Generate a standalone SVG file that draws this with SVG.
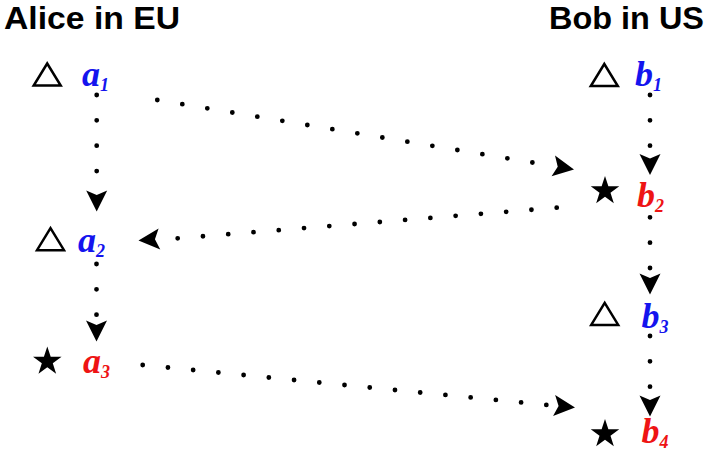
<svg xmlns="http://www.w3.org/2000/svg" xmlns:xlink="http://www.w3.org/1999/xlink" width="706" height="456" viewBox="0 0 706 456">
  <style>
    .title { font-family: "Liberation Sans", Arial, sans-serif; font-weight: bold; font-size: 32px; fill: #000; }
    .lbl { font-family: "Liberation Serif", "Times New Roman", serif; font-style: italic; font-weight: bold; font-size: 36px; }
    .sub { font-size: 18px; }
    .blue { fill: #1414ee; }
    .red { fill: #ee1414; }
    .tri { fill: none; stroke: #000; stroke-width: 2.5; stroke-linejoin: miter; }
    .star { fill: #000; }
    .dots { fill: none; stroke: #000; stroke-width: 4.8; stroke-linecap: round; stroke-dasharray: 0 25.35; }
    .head { fill: #000; }
  </style>
  <defs>
    <path id="triangle" d="M0,-11 L13.5,11 L-13.5,11 Z"/>
    <path id="star5" d="M0,-15 L3.39,-4.67 L14.27,-4.64 L5.49,1.78 L8.82,12.14 L0,5.77 L-8.82,12.14 L-5.49,1.78 L-14.27,-4.64 L-3.39,-4.67 Z"/>
    <!-- arrowhead pointing along +x, tip at origin -->
    <path id="arrowhead" d="M0,0 L-21,-10.5 L-16.5,0 L-21,10.5 Z"/>
  </defs>

  <rect width="706" height="456" fill="#fff"/>

  <g id="titles">
    <text class="title" x="4" y="29" textLength="176" lengthAdjust="spacingAndGlyphs">Alice in EU</text>
    <text class="title" x="549" y="29" textLength="155" lengthAdjust="spacingAndGlyphs">Bob in US</text>
  </g>

  <g id="connectors">
    <!-- cross-region messages -->
    <path class="dots" d="M157.3,100 L533.8,162.75"/>
    <use class="head" xlink:href="#arrowhead" transform="translate(574,169.4) rotate(9.47)"/>
    <path class="dots" d="M556.7,207.7 L175.8,238.45"/>
    <use class="head" xlink:href="#arrowhead" transform="translate(138.5,240.6) rotate(175.4)"/>
    <path class="dots" d="M142.7,365 L548.2,405.15"/>
    <use class="head" xlink:href="#arrowhead" transform="translate(575,407.6) rotate(5.65)"/>
    <!-- local order, Alice -->
    <path class="dots" d="M96.7,95 L96.7,172.5"/>
    <use class="head" xlink:href="#arrowhead" transform="translate(96.7,211.5) rotate(90)"/>
    <path class="dots" d="M96.5,264 L96.5,316.5"/>
    <use class="head" xlink:href="#arrowhead" transform="translate(96.5,341.5) rotate(90)"/>
    <!-- local order, Bob -->
    <path class="dots" d="M650,95 L650,146.5"/>
    <use class="head" xlink:href="#arrowhead" transform="translate(650,175) rotate(90)"/>
    <path class="dots" d="M650,217.3 L650,269.8"/>
    <use class="head" xlink:href="#arrowhead" transform="translate(650,294.5) rotate(90)"/>
    <path class="dots" d="M650,336 L650,388.8"/>
    <use class="head" xlink:href="#arrowhead" transform="translate(650,416.5) rotate(90)"/>
  </g>

  <g id="a1">
    <use class="tri" xlink:href="#triangle" transform="translate(47.2,74.5)"/>
    <text class="lbl blue" x="82" y="86">a<tspan class="sub" dy="5">1</tspan></text>
  </g>
  <g id="a2">
    <use class="tri" xlink:href="#triangle" transform="translate(50.5,239.2)"/>
    <text class="lbl blue" x="78" y="252">a<tspan class="sub" dy="5">2</tspan></text>
  </g>
  <g id="a3">
    <use class="star" xlink:href="#star5" transform="translate(47.3,361.5)"/>
    <text class="lbl red" x="83" y="373">a<tspan class="sub" dy="5">3</tspan></text>
  </g>

  <g id="b1">
    <use class="tri" xlink:href="#triangle" transform="translate(604.3,75)"/>
    <text class="lbl blue" x="635" y="86">b<tspan class="sub" dy="5">1</tspan></text>
  </g>
  <g id="b2">
    <use class="star" xlink:href="#star5" transform="translate(605,191)"/>
    <text class="lbl red" x="637" y="207">b<tspan class="sub" dy="5">2</tspan></text>
  </g>
  <g id="b3">
    <use class="tri" xlink:href="#triangle" transform="translate(604.7,313.9)"/>
    <text class="lbl blue" x="641.5" y="328">b<tspan class="sub" dy="5">3</tspan></text>
  </g>
  <g id="b4">
    <use class="star" xlink:href="#star5" transform="translate(605,434)"/>
    <text class="lbl red" x="641.5" y="443">b<tspan class="sub" dy="5">4</tspan></text>
  </g>
</svg>
